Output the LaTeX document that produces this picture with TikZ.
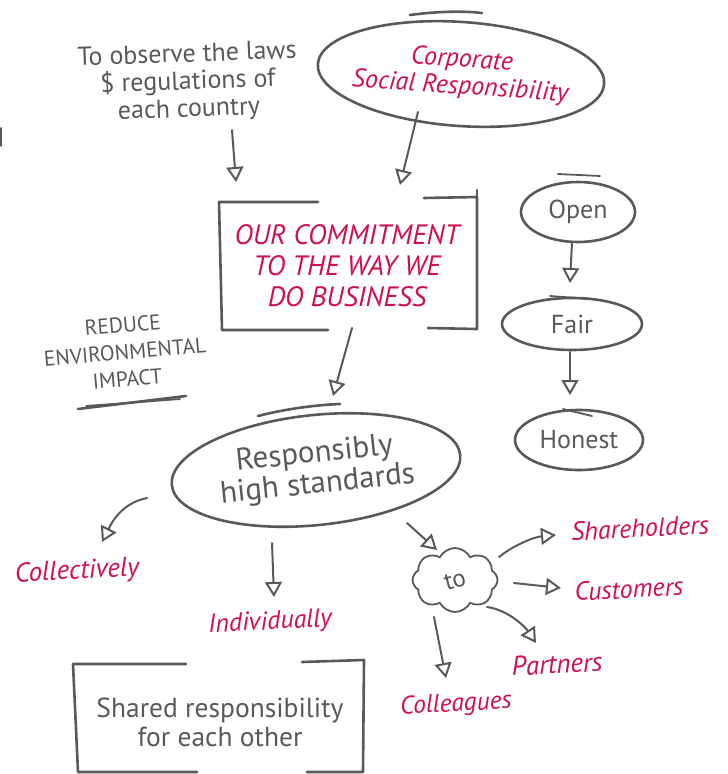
\documentclass[tikz,border=0pt]{standalone}
\usepackage{fontspec}
\setmainfont{PT Sans}
\usetikzlibrary{shapes.geometric,shapes.symbols,arrows.meta,calc}
\definecolor{inkgray}{RGB}{88,89,91}
\definecolor{inkred}{RGB}{208,16,76}
\begin{document}
\begin{tikzpicture}[x=1pt,y=-1pt,
  ink/.style={draw=inkgray,line width=2.6pt,line cap=round,line join=round},
  thinink/.style={draw=inkgray,line width=1.8pt,line cap=round},
  arr/.style={draw=inkgray,line width=2pt,line cap=round,-{Triangle[open,length=15pt,width=17pt]}},
  gtext/.style={text=inkgray,align=center,inner sep=0pt},
  rtext/.style={text=inkred,align=center,inner sep=0pt},
  oval/.style={ellipse,draw=inkgray,line width=2.6pt,inner sep=0pt,align=center}]
\useasboundingbox (0,0) rectangle (728,774);
% small mark at left edge
\draw[thinink] (1,128) -- (1,146);
% top-left text
\node[gtext,rotate=2,font=\fontsize{26}{27.5}\selectfont] (law) at (188,83)
  {To observe the laws\\\$ regulations of\\each country};
% CSR ellipse with its text
\node[oval,inner xsep=-30pt,inner ysep=-12pt,minimum width=287pt,minimum height=104pt,rotate=-4,
  text=inkred,font=\itshape\fontsize{26}{27}\selectfont] (csr) at (461,74)
  {Corporate\\Social Responsibility};
\draw[ink] (410,15) .. controls (440,11) and (465,11) .. (482,13);
% commitment box
\node[rtext,minimum width=255pt,minimum height=130pt,font=\itshape\fontsize{28}{31}\selectfont] (commit) at (347,266)
  {OUR COMMITMENT\\TO THE WAY WE\\DO BUSINESS};
\draw[ink] (318,202) -- (219,202) -- (222,330) -- (328,330);
\draw[ink] (424,198) -- (477,197) -- (477,329) -- (428,328);
\draw[ink] (477,190) -- (477,197);
% reduce environmental impact
\node[gtext,rotate=5,font=\fontsize{21.5}{27}\selectfont] (reduce) at (125,352)
  {REDUCE\\ENVIRONMENTAL\\IMPACT};
\draw[ink] (78,409) -- (186,396);
\draw[thinink] (86,406) -- (180,399);
% responsibly ellipse
\node[oval,minimum width=290pt,minimum height=110pt,rotate=6,text=inkgray,
  font=\fontsize{31}{31}\selectfont] (resp) at (316,470)
  {Responsibly\\high standards};
\draw[ink] (258,416) .. controls (285,409) and (315,405) .. (340,404);
% open fair honest
\node[oval,minimum width=114pt,minimum height=60pt,text=inkgray,font=\fontsize{26}{28}\selectfont] (open) at (578,212) {Open};
\draw[thinink] (558,174) -- (600,176);
\node[oval,minimum width=140pt,minimum height=52pt,text=inkgray,font=\fontsize{26}{28}\selectfont] (fair) at (572,324) {Fair};
\draw[thinink] (550,296) -- (590,299);
\node[oval,minimum width=128pt,minimum height=60pt,text=inkgray,font=\fontsize{26}{28}\selectfont] (honest) at (579,440) {Honest};
\draw[thinink] (563,409) -- (592,416);
% cloud
\node[cloud,draw=inkgray,line width=1.8pt,cloud puffs=8,cloud puff arc=125,aspect=1.3,
  minimum width=85pt,minimum height=64pt,inner sep=0pt,text=inkgray,
  font=\fontsize{25}{25}\selectfont] (to) at (455,580) {\rotatebox{15}{to}};
% labels
\node[rtext,rotate=3,font=\itshape\fontsize{27}{27}\selectfont] (coll) at (77,572) {Collectively};
\node[rtext,rotate=3,font=\itshape\fontsize{26}{27}\selectfont] (indiv) at (270,623) {Individually};
\node[rtext,rotate=3,font=\itshape\fontsize{26}{27}\selectfont] (share) at (640,528) {Shareholders};
\node[rtext,rotate=3,font=\itshape\fontsize{26}{27}\selectfont] (cust) at (629,589) {Customers};
\node[rtext,rotate=3,font=\itshape\fontsize{27}{27}\selectfont] (part) at (557,664) {Partners};
\node[rtext,rotate=3,font=\itshape\fontsize{25.5}{27}\selectfont] (colg) at (456,705) {Colleagues};
% shared box
\node[gtext,font=\fontsize{27.5}{29}\selectfont] (shared) at (220,722)
  {Shared responsibility\\for each other};
\draw[ink] (186,664) -- (73,664) -- (78,772) -- (197,772);
\draw[ink] (302,662) -- (364,660) -- (363,772) -- (307,772);
% arrows
\draw[arr] ($(law)+(44,47)$) -- ($(commit)+(-111,-84)$);
\draw[arr] ($(csr)+(-43,38)$) -- ($(commit)+(53,-81)$);
\draw[arr] ($(commit)+(5,62)$) -- ($(resp)+(17,-74)$);
\draw[arr] ($(open)+(-6,30)$) -- ($(fair)+(-2,-41)$);
\draw[arr] ($(fair)+(-2,28)$) -- ($(honest)+(-9,-45)$);
\draw[arr] ($(resp)+(-169,28)$) .. controls +(-25,5) and +(10,-20) .. ($(coll)+(25,-30)$);
\draw[arr] ($(resp)+(-44,73)$) -- ($(indiv)+(4,-26)$);
\draw[arr] ($(resp)+(91,53)$) -- ($(to)+(-18,-30)$);
\draw[arr] ($(to)+(44,-23)$) .. controls +(15,-12) and +(-22,2) .. ($(share)+(-84,7)$);
\draw[arr] ($(to)+(59,3)$) -- ($(cust)+(-68,-1)$);
\draw[arr] ($(to)+(32,27)$) .. controls +(22,3) and +(-10,-15) .. ($(part)+(-21,-21)$);
\draw[arr] ($(to)+(-21,37)$) -- ($(colg)+(-10,-27)$);
\end{tikzpicture}
\end{document}
